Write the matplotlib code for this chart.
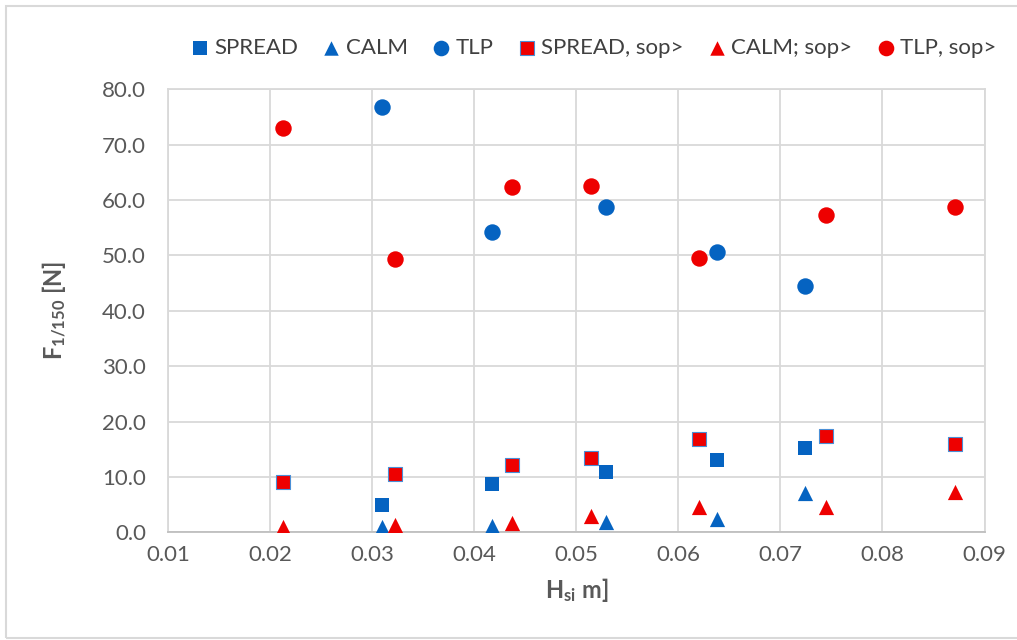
import matplotlib
matplotlib.use("Agg")
import matplotlib.pyplot as plt
from matplotlib.patches import Rectangle

plt.rcParams['font.family'] = ['Lato', 'DejaVu Sans']
plt.rcParams['mathtext.fontset'] = 'custom'
plt.rcParams['mathtext.rm'] = 'Lato'
plt.rcParams['mathtext.bf'] = 'Lato:bold'
plt.rcParams['mathtext.it'] = 'Lato:italic'

# ---- data ----
hs_blue = [0.0309, 0.0417, 0.0529, 0.0638, 0.0724]
spread = [4.9, 8.65, 10.8, 13.0, 15.2]
calm = [1.0, 1.1, 1.8, 2.35, 7.15]
tlp = [76.8, 54.2, 58.8, 50.6, 44.4]

hs_red = [0.0212, 0.0322, 0.0437, 0.0514, 0.0620, 0.0745, 0.0871]
spread_sop = [9.0, 10.6, 12.15, 13.5, 16.8, 17.45, 15.9]
calm_sop = [1.0, 1.25, 1.7, 2.95, 4.6, 4.6, 7.3]
tlp_sop = [73.0, 49.4, 62.3, 62.6, 49.6, 57.3, 58.7]

x_ticks = [0.01, 0.02, 0.03, 0.04, 0.05, 0.06, 0.07, 0.08, 0.09]
y_ticks = [0, 10, 20, 30, 40, 50, 60, 70, 80]

BLUE = '#0563C1'
RED = '#EE0000'

W, H = 1017, 640
fig = plt.figure(figsize=(W / 100, H / 100), dpi=100)
ax = fig.add_axes([168.3 / W, 1 - 532.3 / H, (984.5 - 168.3) / W, (532.3 - 89.3) / H])

ax.scatter(hs_blue, spread, marker='s', s=100, color=BLUE, label='SPREAD', zorder=3, linewidths=0)
ax.scatter(hs_blue, calm, marker='^', s=120, color=BLUE, label='CALM', zorder=3, linewidths=0)
ax.scatter(hs_blue, tlp, marker='o', s=140, color=BLUE, label='TLP', zorder=3, linewidths=0)
ax.scatter(hs_red, spread_sop, marker='s', s=110, color=RED, edgecolors='#4a8fd6',
           linewidths=0.8, label='SPREAD, sop>', zorder=4)
ax.scatter(hs_red, calm_sop, marker='^', s=120, color=RED, label='CALM; sop>', zorder=4, linewidths=0)
ax.scatter(hs_red, tlp_sop, marker='o', s=140, color=RED, label='TLP, sop>', zorder=4, linewidths=0)

ax.set_xlim(0.01, 0.09)
ax.set_ylim(0, 80)
ax.set_xticks(x_ticks)
ax.set_xticklabels([f'{v:.2f}' for v in x_ticks])
ax.set_yticks(y_ticks)
ax.set_yticklabels([f'{v:.1f}' for v in y_ticks])
ax.tick_params(length=0, labelsize=16, colors='#595959')
ax.tick_params(axis='y', pad=16)
ax.tick_params(axis='x', pad=9)
ax.grid(True, color='#d9d9d9', linewidth=1.3)
ax.set_axisbelow(True)
for sp in ax.spines.values():
    sp.set_color('#d9d9d9')
    sp.set_linewidth(1.3)
ax.spines['bottom'].set_color('#bfbfbf')

ax.set_xlabel(r'$\mathbf{H_{si}}$ m]', fontsize=17, fontweight='bold', color='#595959', labelpad=8)
ax.set_ylabel(r'$\mathbf{F_{1/150}}$ [N]', fontsize=17, fontweight='bold', color='#595959', labelpad=24)

fig.legend(loc='center', bbox_to_anchor=(592 / W, 1 - 48 / H), ncol=6, frameon=False,
           fontsize=16, handletextpad=0.1, columnspacing=0.95, labelcolor='#404040',
           handlelength=1.1, markerscale=0.95, borderpad=0.1, borderaxespad=0.1)

fig.patches.append(Rectangle((6 / W, 2 / H), 1.0, 1 - 8 / H, transform=fig.transFigure,
                             fill=False, edgecolor='#d9d9d9', linewidth=1.5, zorder=0))

fig.savefig('out.png', dpi=100)
